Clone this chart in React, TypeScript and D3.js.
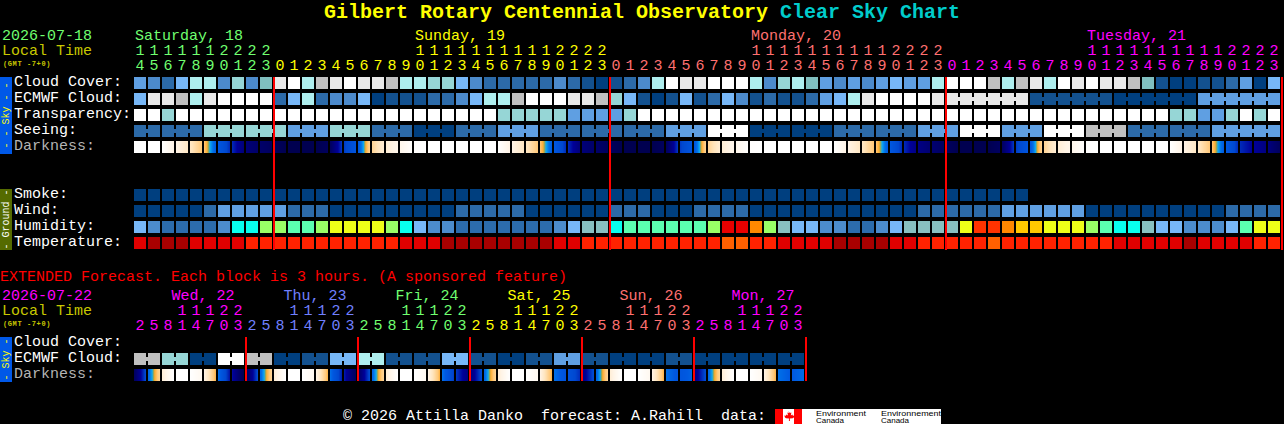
import React from 'react';
import * as d3 from 'd3';

const WIDTH = 1284;
const HEIGHT = 424;
const MONO = '"Liberation Mono", monospace';

// 0 = clear ... 10 = overcast, 11 is the darker teal step
const cloudPalette = ['#003f7f', '#13518f', '#2c6aa8', '#4c8acb', '#5f9fe2', '#77b7f7', '#96d6d6', '#aeeeee', '#c0c0c0', '#e9e9e9', '#ffffff', '#80bfbf'];
const humidityPalette = ['#e80000', '#ff3300', '#ff8800', '#ffc800', '#eeff18', '#99ff66', '#5bffb0', '#08ffee', '#88c0c0', '#77b7f7', '#4c8ccc', '#2c6cac'];
const temperaturePalette = ['#a80000', '#e00000', '#ff2200', '#ff6000'];

const hours = [
  14, 15, 16, 17, 18, 19, 20, 21, 22, 23,
  0, 1, 2, 3, 4, 5, 6, 7, 8, 9, 10, 11, 12, 13, 14, 15, 16, 17, 18, 19, 20, 21, 22, 23,
  0, 1, 2, 3, 4, 5, 6, 7, 8, 9, 10, 11, 12, 13, 14, 15, 16, 17, 18, 19, 20, 21, 22, 23,
  0, 1, 2, 3, 4, 5, 6, 7, 8, 9, 10, 11, 12, 13, 14, 15, 16, 17, 18, 19, 20, 21, 22, 23,
];
const extHours = [
  2, 5, 8, 11, 14, 17, 20, 23, 2, 5, 8, 11, 14, 17, 20, 23, 2, 5, 8, 11, 14, 17, 20, 23,
  2, 5, 8, 11, 14, 17, 20, 23, 2, 5, 8, 11, 14, 17, 20, 23, 2, 5, 8, 11, 14, 17, 20, 23,
];

const days = [
  { label: 'Saturday, 18', start: 0, labelAt: 0, end: 10, color: '#70ff70' },
  { label: 'Sunday, 19', start: 10, labelAt: 20, end: 34, color: '#ffff00' },
  { label: 'Monday, 20', start: 34, labelAt: 44, end: 58, color: '#ff7070' },
  { label: 'Tuesday, 21', start: 58, labelAt: 68, end: 82, color: '#ff00ff' },
];
const extDays = [
  { label: 'Wed, 22', start: 0, labelAt: 2.6, end: 8, color: '#ff00ff' },
  { label: 'Thu, 23', start: 8, labelAt: 10.6, end: 16, color: '#7080ff' },
  { label: 'Fri, 24', start: 16, labelAt: 18.6, end: 24, color: '#70ff70' },
  { label: 'Sat, 25', start: 24, labelAt: 26.6, end: 32, color: '#ffff00' },
  { label: 'Sun, 26', start: 32, labelAt: 34.6, end: 40, color: '#ff7070' },
  { label: 'Mon, 27', start: 40, labelAt: 42.6, end: 48, color: '#ff00ff' },
];

const skyLabels = ['Cloud Cover:', 'ECMWF Cloud:', 'Transparency:', 'Seeing:', 'Darkness:'];
const groundLabels = ['Smoke:', 'Wind:', 'Humidity:', 'Temperature:'];
const extLabels = ['Cloud Cover:', 'ECMWF Cloud:', 'Darkness:'];

const cloudCover = [
  4, 3, 2, 5, 7, 7, 3, 6, 3, 11,
  9, 10, 7, 8, 9, 10, 9, 9, 8, 7,
  7, 6, 6, 5, 3, 2, 2, 2, 2, 2,
  3, 2, 1, 0, 1, 2, 3, 7, 10, 9,
  9, 10, 10, 10, 7, 3, 6, 7, 11, 4,
  3, 4, 3, 4, 5, 4, 4, 7, 10, 10,
  10, 8, 7, 8, 9, 7, 10, 9, 10, 9,
  9, 8, 11, 1, 0, 0, 1, 1, 2, 4,
  0, 5,
];
const ecmwfSpans = [
  1, 1, 1, 1, 1, 1, 1, 1, 1, 1, 1, 1, 1, 1, 1, 1, 1, 1, 1, 1,
  1, 1, 1, 1, 1, 1, 1, 1, 1, 1, 1, 1, 1, 1, 1, 1, 1, 1, 1, 1,
  1, 1, 1, 1, 1, 1, 1, 1, 1, 1, 1, 1, 1, 1, 1, 1, 1, 1,
  6, 6, 6, 6,
];
const ecmwfCloud = [
  5, 9, 9, 8, 7, 9, 10, 10, 10, 10,
  2, 5, 7, 2, 3, 3, 5, 0, 1, 1,
  1, 2, 2, 3, 5, 7, 7, 8, 10, 10,
  10, 9, 9, 8, 6, 5, 1, 0, 1, 5,
  1, 2, 5, 3, 1, 2, 1, 1, 2, 4,
  5, 7, 9, 10, 10, 10, 10, 9,
  9, 1, 0, 4,
];
const transparency = [
  10, 10, 6, 10, 10, 10, 10, 10, 10, 10,
  10, 10, 10, 10, 10, 10, 10, 10, 10, 10,
  10, 10, 10, 10, 10, 10, 6, 6, 6, 6,
  6, 4, 4, 4, 4, 6, 10, 10, 10, 10,
  10, 10, 10, 10, 10, 10, 10, 10, 10, 10,
  10, 10, 10, 10, 10, 10, 10, 10, 10, 10,
  10, 10, 10, 10, 10, 10, 10, 10, 10, 10,
  10, 10, 10, 10, 6, 6, 4, 4, 6, 10,
  6, 10,
];
const seeingSpans = [2, 3, 3, 3, 3, 3, 3, 3, 3, 3, 3, 3, 3, 3, 3, 3, 3, 3, 3, 3, 3, 3, 3, 3, 3, 3, 5];
const seeing = [2, 2, 6, 6, 4, 6, 2, 0, 2, 4, 2, 2, 2, 4, 10, 0, 0, 2, 2, 4, 10, 4, 10, 8, 2, 2, 4];
// darkness read at the left edge of each hour, plus the closing edge
const darknessEdges = [
  -4, -4, -4, -3, -2.2, -1, 1, 2.4, 3.8, 4.2,
  4.6, 5, 5, 5, 4.6, 2.2, 1.2, -1.4, -2.6, -3.2,
  -3.9, -4, -4, -4, -4, -4, -4, -3, -2.2, -1,
  1, 2.4, 3.8, 4.2, 4.6, 5, 5, 5, 4.6, 2.2,
  1.2, -1.4, -2.6, -3.2, -3.9, -4, -4, -4, -4, -4,
  -4, -3, -2.2, -1, 1, 2.4, 3.5, 4, 4.5, 5,
  5, 5, 4.5, 2.2, 1.2, -1.4, -2.6, -3.2, -3.9, -4,
  -4, -4, -4, -4, -4, -3, -2.2, -1, 1, 2.4,
  3, 3.6, 4.6,
];
const smoke = [
  0, 0, 0, 0, 0, 0, 0, 0, 0, 0, 0, 0, 0, 0, 0, 0,
  0, 0, 0, 0, 0, 0, 0, 0, 0, 0, 0, 0, 0, 0, 0, 0,
  0, 0, 0, 0, 0, 0, 0, 0, 0, 0, 0, 0, 0, 0, 0, 0,
  0, 0, 0, 0, 0, 0, 0, 0, 0, 0, 0, 0, 0, 0, 0, 0,
];
const wind = [
  0, 0, 0, 0, 0, 2, 4, 4, 4, 4,
  4, 2, 2, 2, 0, 0, 0, 0, 0, 0,
  0, 0, 0, 2, 2, 2, 2, 2, 0, 0,
  0, 0, 0, 0, 2, 2, 2, 0, 0, 0,
  2, 2, 2, 2, 0, 0, 0, 0, 0, 0,
  0, 0, 0, 0, 0, 0, 2, 2, 2, 2,
  2, 2, 4, 4, 4, 4, 4, 4, 0, 0,
  0, 0, 0, 0, 0, 0, 0, 0, 2, 2,
  2, 2,
];
const humidity = [
  9, 10, 11, 11, 11, 11, 10, 7, 7, 5,
  5, 6, 6, 5, 4, 4, 4, 4, 5, 7,
  9, 10, 10, 11, 11, 11, 11, 11, 11, 11,
  10, 9, 8, 8, 7, 6, 6, 6, 6, 6,
  6, 5, 0, 0, 2, 5, 8, 9, 9, 10,
  10, 11, 11, 10, 9, 8, 8, 8, 8, 4,
  1, 1, 2, 3, 3, 4, 4, 4, 5, 6,
  7, 7, 8, 9, 9, 10, 10, 10, 9, 6,
  4, 4,
];
const temperature = [
  1, 0, 0, 0, 1, 1, 1, 1, 2, 2,
  2, 2, 2, 2, 2, 2, 2, 2, 2, 1,
  1, 1, 0, 0, 0, 0, 0, 0, 0, 0,
  1, 1, 2, 2, 2, 2, 2, 2, 2, 2,
  2, 2, 3, 3, 2, 2, 1, 1, 1, 1,
  0, 0, 0, 0, 1, 1, 2, 2, 2, 2,
  2, 3, 2, 2, 2, 2, 2, 2, 2, 2,
  1, 1, 1, 1, 1, 0, 1, 1, 1, 1,
  2, 2,
];

const extEcmwfSpans = [2, 2, 2, 2, 2, 2, 2, 2, 2, 2, 2, 2, 2, 2, 2, 2, 2, 2, 2, 2, 2, 2, 2, 2];
const extEcmwf = [8, 6, 0, 10, 8, 0, 1, 5, 7, 1, 1, 5, 1, 0, 1, 4, 1, 0, 0, 1, 0, 0, 0, 0];
const extDarkStart = [
  4.6, 0.8, -2.6, -4, -4, -3, 0.5, 2.8,
  4.6, 0.8, -2.6, -4, -4, -3, 0.5, 2.6,
  4.4, 0.8, -2.6, -4, -4, -3, 0.5, 2.2,
  3.8, 0.8, -2.6, -4, -4, -3, 0.5, 1.4,
  3.6, 0.8, -2.6, -4, -4, -3, 0.5, 1.2,
  3.6, 0.8, -2.6, -4, -4, -3, 0.5, 1,
];
const extDarkEnd = [
  1.8, -1.5, -4, -4, -3.4, -0.6, 2.8, 5,
  1.8, -1.5, -4, -4, -3.4, -0.6, 2.6, 4.6,
  1.8, -1.5, -4, -4, -3.4, -0.6, 2.2, 3.6,
  1.8, -1.5, -4, -4, -3.4, -0.6, 1.4, 2.4,
  1.8, -1.5, -4, -4, -3.4, -0.6, 1.2, 0.8,
  1.8, -1.5, -4, -4, -3.4, -0.6, 1, 0.6,
];

const mainBreaks = [10, 34, 58, 82];
const extBreaks = [8, 16, 24, 32, 40, 48];

const mainX = d3.scaleLinear().domain([0, 82]).range([134, 1282]);
const extX = d3.scaleLinear().domain([0, 48]).range([134, 806]);
const cloudColor = d3.scaleOrdinal<number, string>().domain(d3.range(cloudPalette.length)).range(cloudPalette);
const humidityColor = d3.scaleOrdinal<number, string>().domain(d3.range(humidityPalette.length)).range(humidityPalette);
const temperatureColor = d3.scaleOrdinal<number, string>().domain(d3.range(temperaturePalette.length)).range(temperaturePalette);
const darkColor = d3.scaleLinear<string>()
  .domain([-4, -3, -2, -1, -0.5, -0.25, 0, 0.5, 1, 2, 3, 4, 5])
  .range(['#ffffff', '#fff4e6', '#ffe4bc', '#ffc878', '#ffac30', '#90a860', '#10a8f0', '#0070e8', '#0058e0', '#0048d0', '#000098', '#000070', '#000050'])
  .interpolate(d3.interpolateRgb)
  .clamp(true);

const BLOCK = 12;
const NOTCH = 4;
const LABEL_GREY = '#b4b4b4';

type Scale = d3.ScaleLinear<number, number>;

function Blocks({ x, y, values, color }: { x: Scale; y: number; values: number[]; color: (v: number) => string }) {
  return (
    <g>
      {values.map((v, i) => (
        <rect key={i} x={x(i)} y={y} width={BLOCK} height={BLOCK} fill={color(v)} />
      ))}
    </g>
  );
}

// blocks that share one reading are joined by a short bar in the gap
function SpanBlocks({ x, y, values, spans, color }: { x: Scale; y: number; values: number[]; spans: number[]; color: (v: number) => string }) {
  const starts = d3.cumsum([0, ...spans]);
  return (
    <g>
      {values.map((v, g) => (
        <g key={g} fill={color(v)}>
          {d3.range(spans[g]).map(k => (
            <rect key={k} x={x(starts[g] + k)} y={y} width={BLOCK} height={BLOCK} />
          ))}
          {spans[g] > 1 && (
            <rect x={x(starts[g])} y={y + NOTCH} width={x(starts[g] + spans[g]) - x(starts[g]) - 2} height={BLOCK - 2 * NOTCH} />
          )}
        </g>
      ))}
    </g>
  );
}

function DarkBlocks({ x, y, start, end }: { x: Scale; y: number; start: number[]; end: number[] }) {
  return (
    <g>
      {start.map((s, i) => {
        const lerp = d3.interpolateNumber(s, end[i]);
        return d3.range(BLOCK).map(px => (
          <rect key={`${i}-${px}`} x={x(i) + px} y={y} width={1} height={BLOCK} fill={darkColor(lerp((px + 0.5) / BLOCK))} />
        ));
      })}
    </g>
  );
}

// one text per stack of row labels, the last one can be dimmed
function Labels({ y, lines, dimLast }: { y: number; lines: string[]; dimLast?: boolean }) {
  return (
    <text fontSize={15}>
      {lines.map((l, i) => (
        <tspan key={l} x={14} y={y + i * 16} fill={dimLast && i === lines.length - 1 ? LABEL_GREY : '#ffffff'}>{l}</tspan>
      ))}
    </text>
  );
}

// one text per day: its title, the tens row and the units row
function Header({ x, hrs, dayList, y }: { x: Scale; hrs: number[]; dayList: typeof days; y: number }) {
  return (
    <g fontSize={15}>
      {dayList.map(d => (
        <text key={d.label} fill={d.color}>
          <tspan x={x(d.labelAt) + 1} y={y}>{d.label}</tspan>
          {d3.range(d.start, d.end).map(i => (
            <React.Fragment key={i}>
              {hrs[i] >= 10 && <tspan x={x(i) + 1.5} y={y + 15}>{Math.floor(hrs[i] / 10)}</tspan>}
              <tspan x={x(i) + 1.5} y={y + 30}>{hrs[i] % 10}</tspan>
            </React.Fragment>
          ))}
        </text>
      ))}
    </g>
  );
}

function DateBlock({ y, date, color }: { y: number; date: string; color: string }) {
  return (
    <text fontSize={15}>
      <tspan x={2} y={y} fill={color}>{date}</tspan>
      <tspan x={2} y={y + 15} fill="#c8c800">Local Time</tspan>
      <tspan x={3} y={y + 25.5} fontSize={7} letterSpacing={0.6} fontWeight="bold" fill="#c8c800">(GMT -7+0)</tspan>
    </text>
  );
}

function Breaks({ x, breaks, y1, y2 }: { x: Scale; breaks: number[]; y1: number; y2: number }) {
  return (
    <g>
      {breaks.map(b => (
        <rect key={b} x={x(b) - 1} y={y1} width={2} height={y2 - y1} fill="#ff0000" />
      ))}
    </g>
  );
}

function Strip({ y, height, fill, color, text }: { y: number; height: number; fill: string; color: string; text: string }) {
  return (
    <g>
      <rect x={0} y={y} width={12} height={height} fill={fill} />
      <text
        transform={`translate(9,${y + height / 2}) rotate(-90)`}
        textAnchor="middle"
        fontSize={10}
        fill={color}
        style={{ whiteSpace: 'pre' }}
      >
        {text}
      </text>
    </g>
  );
}

export default function App() {
  return (
    <svg
      width={WIDTH}
      height={HEIGHT}
      style={{ position: 'absolute', left: 0, top: 0, display: 'block', background: '#000' }}
      fontFamily={MONO}
    >
      <rect width={WIDTH} height={HEIGHT} fill="#000000" />

      <text x={324} y={18} fontSize={20} fontWeight="bold" fill="#ffff00">
        Gilbert Rotary Centennial Observatory <tspan fill="#00cccc">Clear Sky Chart</tspan>
      </text>

      <DateBlock y={40} date="2026-07-18" color="#70ff70" />
      <Header x={mainX} hrs={hours} dayList={days} y={40} />

      <Strip y={77} height={77} fill="#0058e8" color="#ffff00" text="- - Sky - -" />
      <Labels y={86} lines={skyLabels} dimLast />
      <Blocks x={mainX} y={77} values={cloudCover} color={cloudColor} />
      <SpanBlocks x={mainX} y={93} values={ecmwfCloud} spans={ecmwfSpans} color={cloudColor} />
      <Blocks x={mainX} y={109} values={transparency} color={cloudColor} />
      <SpanBlocks x={mainX} y={125} values={seeing} spans={seeingSpans} color={cloudColor} />
      <DarkBlocks x={mainX} y={141} start={darknessEdges.slice(0, -1)} end={darknessEdges.slice(1)} />

      <Strip y={189} height={61} fill="#556b00" color="#ffffff" text="- Ground -" />
      <Labels y={198} lines={groundLabels} />
      <Blocks x={mainX} y={189} values={smoke} color={cloudColor} />
      <Blocks x={mainX} y={205} values={wind} color={cloudColor} />
      <Blocks x={mainX} y={221} values={humidity} color={humidityColor} />
      <Blocks x={mainX} y={237} values={temperature} color={temperatureColor} />
      <Breaks x={mainX} breaks={mainBreaks} y1={77} y2={250} />

      <text x={0} y={281} fontSize={15} fill="#ff0000">EXTENDED Forecast. Each block is 3 hours. (A sponsored feature)</text>

      <DateBlock y={300} date="2026-07-22" color="#ff00ff" />
      <Header x={extX} hrs={extHours} dayList={extDays} y={300} />

      <Strip y={337} height={45} fill="#0058e8" color="#ffff00" text="- Sky -" />
      <Labels y={346} lines={extLabels} dimLast />
      <SpanBlocks x={extX} y={353} values={extEcmwf} spans={extEcmwfSpans} color={cloudColor} />
      <DarkBlocks x={extX} y={369} start={extDarkStart} end={extDarkEnd} />
      <Breaks x={extX} breaks={extBreaks} y1={337} y2={381} />

      <text x={343} y={420} fontSize={15} fill="#ffffff" style={{ whiteSpace: 'pre' }}>
        {'© 2026 Attilla Danko  forecast: A.Rahill  data:'}
      </text>

      <g>
        <rect x={775} y={409} width={166} height={15} fill="#ffffff" />
        <rect x={775} y={409} width={8} height={15} fill="#ff0000" />
        <rect x={794} y={409} width={8} height={15} fill="#ff0000" />
        <path d="M788.5 411l1.3 2 1.6-.6-.6 3 1.6-1 .5 1.3 1.6-.2-.7 2-1 .8-3 .3.1 2.4h-1l.1-2.4-3-.3-1-.8-.7-2 1.6.2.5-1.3 1.6 1-.6-3 1.6.6z" fill="#ff0000" />
        <text fontFamily='"Liberation Sans", sans-serif' fontSize={8} fill="#000000">
          <tspan x={816} y={416} textLength={50} lengthAdjust="spacingAndGlyphs">Environment</tspan>
          <tspan x={816} y={423} textLength={28} lengthAdjust="spacingAndGlyphs">Canada</tspan>
          <tspan x={881} y={416} textLength={60} lengthAdjust="spacingAndGlyphs">Environnement</tspan>
          <tspan x={881} y={423} textLength={28} lengthAdjust="spacingAndGlyphs">Canada</tspan>
        </text>
      </g>
    </svg>
  );
}
